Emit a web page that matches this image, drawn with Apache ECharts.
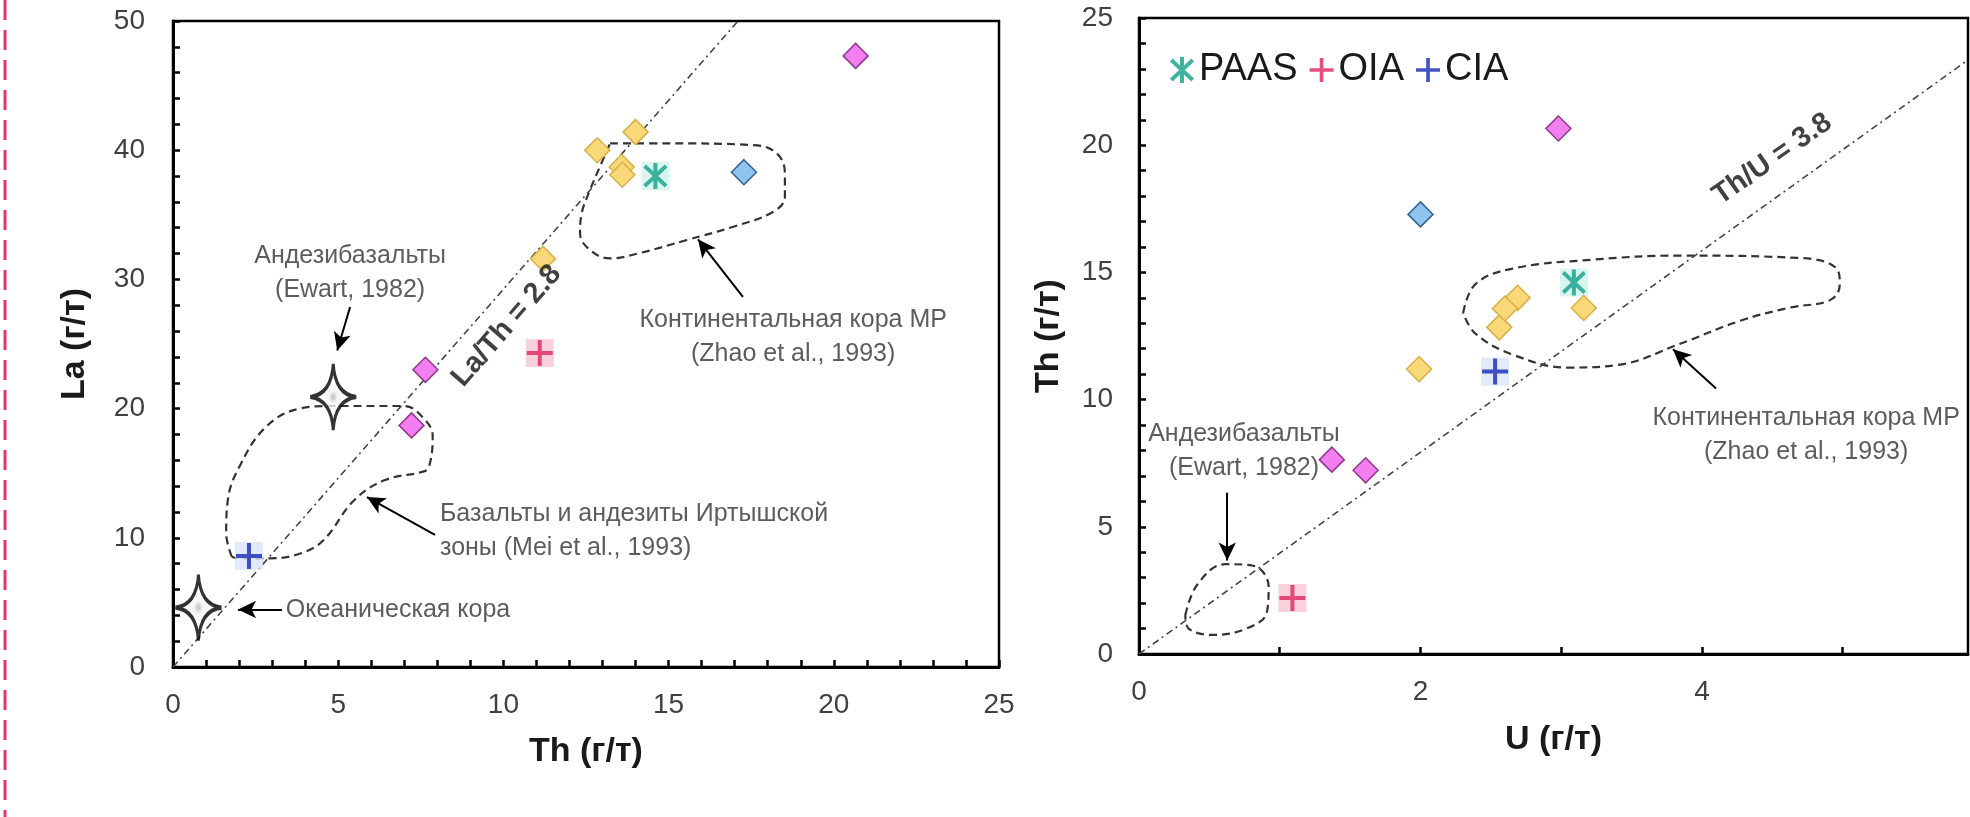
<!DOCTYPE html>
<html><head><meta charset="utf-8">
<script src="https://cdn.jsdelivr.net/npm/echarts@6/dist/echarts.min.js"></script>
<style>html,body{margin:0;padding:0;background:#fff;overflow:hidden}#c{width:1970px;height:817px}</style>
</head><body><div id="c"></div>
<script>
// ---------- data ----------
const pinkTh   = [20.66, 7.64, 7.22];
const pinkLa   = [47.3, 23.0, 18.7];
const pinkU    = [2.98, 1.37, 1.61];
const yellowTh = [12.84, 14.0, 13.58, 13.6, 11.2];
const yellowLa = [40.0, 41.4, 38.7, 38.1, 31.6];
const yellowU  = [2.56, 2.69, 2.60, 3.16, 1.99];
const blueTh   = [17.28];
const blueLa   = [38.3];
const blueU    = [2.0];
const paasLeft  = [[14.6, 38.0]];   // Th, La
const paasRight = [[3.09, 14.6]];   // U, Th
const redPlusLeft   = [[11.1, 24.3]];
const bluePlusLeft  = [[2.3, 8.6]];
const redPlusRight  = [[1.09, 2.2]];
const bluePlusRight = [[2.53, 11.1]];
const refStarsLeft  = [[4.85, 20.9], [0.77, 4.6]];
const ratioLineLaTh = [[0, 0], [17.1, 50]];
const ratioLineThU  = [[0, 0], [5.89, 23.35]];
const regionIrtysh = [[1.78,8.54],[1.61,10.35],[1.66,12.93],[2.01,15.5],[2.82,18.6],[3.87,20.02],[4.79,20.2],[6.99,20.2],[7.63,19.12],[7.86,17.83],[7.75,15.5],[7.57,15.12],[6.42,14.47],[5.49,12.93],[4.56,9.83],[3.87,8.8],[2.94,8.41],[2.01,8.41]];
const regionContLeft = [[13.23,40.53],[14.94,40.53],[17.56,40.4],[18.27,39.76],[18.52,38.21],[18.52,36.4],[18.17,35.24],[16.96,34.08],[15.55,33.05],[14.13,32.04],[13.23,31.63],[12.62,32.28],[12.32,33.57],[12.37,35.12],[12.62,36.92],[12.92,38.72]];
const regionEwartRight = [[0.329,1.525],[0.417,2.75],[0.614,3.53],[0.811,3.47],[0.921,2.65],[0.908,1.63],[0.768,1.01],[0.526,0.75],[0.351,1.01]];
const regionContRight = [[2.303,13.41],[2.391,14.54],[2.654,15.15],[3.224,15.5],[3.838,15.66],[4.716,15.56],[4.957,15.15],[4.979,14.54],[4.913,13.92],[4.628,13.62],[4.277,13.11],[3.838,12.18],[3.4,11.36],[3.049,11.26],[2.654,11.77],[2.391,12.59]];
const leftXLabels  = [0, 5, 10, 15, 20, 25];
const leftYLabels  = [0, 10, 20, 30, 40, 50];
const rightXLabels = [0, 2, 4];
const rightYLabels = [0, 5, 10, 15, 20, 25];
const legendNames  = ['PAAS', 'OIA', 'CIA'];
const annosLeft = [
  {text: 'Андезибазальты\n(Ewart, 1982)', at: [5.36, 30.45]},
  {text: 'Океаническая кора', at: [6.81, 4.4]},
  {text: 'Базальты и андезиты Иртышской\nзоны (Mei et al., 1993)', at: [8.08, 10.49], align: 'left'},
  {text: 'Континентальная кора МР\n(Zhao et al., 1993)', at: [18.77, 25.5]},
  {text: 'La/Th = 2.8', at: [10.1, 26.4], rotate: 49}
];
const annosRight = [
  {text: 'Андезибазальты\n(Ewart, 1982)', at: [0.746, 7.98]},
  {text: 'Континентальная кора МР\n(Zhao et al., 1993)', at: [4.74, 8.6]},
  {text: 'Th/U = 3.8', at: [4.5, 19.45], rotate: 35}
];
const arrowsLeft = [
  [[5.36, 27.86], [4.97, 24.5]],
  [[3.30, 4.45], [1.97, 4.45]],
  [[7.93, 10.22], [5.87, 13.15]],
  [[17.25, 28.64], [15.89, 33.1]]
];
const arrowsRight = [
  [[0.627, 6.34], [0.627, 3.68]],
  [[4.10, 10.44], [3.794, 11.98]]
];

// ---------- styling ----------
const F = 'Liberation Sans, Arial, sans-serif';
const zip = (a, b) => a.map((v, i) => [v, b[i]]);
const ASTER = 'path://M10,0 L14,0 L14,26 L10,26 Z M0,4.5 L2.6,1.5 L24,21.5 L21.4,24.5 Z M21.4,1.5 L24,4.5 L2.6,24.5 L0,21.5 Z';
const PLUS = 'path://M11,0 L15,0 L15,11 L26,11 L26,15 L15,15 L15,26 L11,26 L11,15 L0,15 L0,11 L11,11 Z';
const STAR = 'path://M50,0 Q54,46 100,50 Q54,54 50,100 Q46,54 0,50 Q46,46 50,0 Z';
const C = {pink:'#f27ef0', pinkB:'#8e3a8e', yellow:'#f8d878', yellowB:'#d8b048', blue:'#8ec4ef', blueB:'#35618f',
  teal:'#12a08a', tealBg:'#cff3ec', red:'#e0245e', redBg:'#f8c6d5', navy:'#1428b4', navyBg:'#dbe3f8'};

function axisCommon(min, max, interval, labels, name, nameGap, margin) {
  return {
    type: 'value', min, max, interval,
    axisLine: {show: true, onZero: false, lineStyle: {color: '#000', width: 3}},
    axisTick: {show: true, inside: true, length: 7, lineStyle: {color: '#000', width: 2.5}},
    axisLabel: {formatter: v => labels.includes(v) ? String(v) : '', margin, fontSize: 28, color: '#404040', fontFamily: F, showMaxLabel: labels.includes(max)},
    splitLine: {show: false},
    name, nameLocation: 'middle', nameGap,
    nameTextStyle: {fontSize: 34, fontWeight: 'bold', color: '#1a1a1a', fontFamily: F}
  };
}
function region(data, xi) {
  return {type: 'line', xAxisIndex: xi, yAxisIndex: xi, data: data.concat([data[0]]), smooth: 0.4, symbol: 'none',
    lineStyle: {color: '#333', width: 2.2, type: [8, 5]}, silent: true, z: 2};
}
function ratio(data, xi) {
  return {type: 'line', xAxisIndex: xi, yAxisIndex: xi, data, symbol: 'none',
    lineStyle: {color: '#444', width: 1.6, type: [7, 4, 2, 4]}, silent: true, z: 2};
}
function diamonds(data, xi, fill, border) {
  return {type: 'scatter', xAxisIndex: xi, yAxisIndex: xi, data, symbol: 'diamond', symbolSize: 25,
    itemStyle: {color: fill, borderColor: border, borderWidth: 1.5, opacity: 1}, silent: true, z: 5};
}
function bgSquare(data, xi, color) {
  return {type: 'scatter', xAxisIndex: xi, yAxisIndex: xi, data, symbol: 'rect', symbolSize: 28,
    itemStyle: {color}, silent: true, z: 4};
}
function mark(name, data, xi, symbol, color, size) {
  return {type: 'scatter', name, xAxisIndex: xi, yAxisIndex: xi, data, symbol, symbolSize: size,
    itemStyle: {color}, silent: true, z: 6};
}
function annos(list, arrows, xi) {
  return {
    type: 'scatter', xAxisIndex: xi, yAxisIndex: xi, symbolSize: 1, itemStyle: {color: 'rgba(0,0,0,0)'}, silent: true, z: 7,
    data: list.map(a => ({
      value: a.at, name: a.text,
      label: a.rotate ? {rotate: a.rotate, fontWeight: 'bold', fontSize: 29, color: '#111'} : {align: a.align || 'center'}
    })),
    label: {show: true, position: 'inside', formatter: p => p.name, fontSize: 25, color: '#333', lineHeight: 34, fontFamily: F},
    markLine: {
      silent: true, animation: false, symbol: ['none', 'arrow'], symbolSize: [13, 18],
      lineStyle: {color: '#000', width: 2, type: 'solid'}, label: {show: false},
      emphasis: {disabled: true},
      data: arrows.map(a => [{coord: a[0]}, {coord: a[1]}])
    }
  };
}

const chart = echarts.init(document.getElementById('c'));
chart.setOption({
  animation: false,
  backgroundColor: '#fff',
  textStyle: {fontFamily: F},
  grid: [
    {left: 173, top: 21, width: 826, height: 646, show: true, borderColor: '#000', borderWidth: 2.5, backgroundColor: 'transparent'},
    {left: 1139, top: 18, width: 829, height: 636, show: true, borderColor: '#000', borderWidth: 2.5, backgroundColor: 'transparent'}
  ],
  xAxis: [
    Object.assign(axisCommon(0, 25, 1, leftXLabels, 'Th (г/т)', 68, 24), {gridIndex: 0}),
    Object.assign(axisCommon(0, 5.89, 1, rightXLabels, 'U (г/т)', 69, 24), {gridIndex: 1})
  ],
  yAxis: [
    Object.assign(axisCommon(0, 50, 2, leftYLabels, 'La (г/т)', 81, 28), {gridIndex: 0}),
    Object.assign(axisCommon(0, 25, 1, rightYLabels, 'Th (г/т)', 73, 26), {gridIndex: 1})
  ],
  legend: {
    left: 1170, top: 51, padding: 0, itemGap: 12, itemWidth: 24, itemHeight: 26, selectedMode: false,
    textStyle: {fontSize: 38, color: '#1a1a1a', fontFamily: F},
    data: [{name: legendNames[0], icon: ASTER}, {name: legendNames[1], icon: PLUS}, {name: legendNames[2], icon: PLUS}]
  },
  graphic: [{type: 'line', shape: {x1: 5, y1: 0, x2: 5, y2: 817}, style: {stroke: '#e8336f', lineWidth: 3, lineDash: [20, 10]}}],
  series: [
    // left panel
    region(regionIrtysh, 0),
    region(regionContLeft, 0),
    ratio(ratioLineLaTh, 0),
    {type: 'scatter', xAxisIndex: 0, yAxisIndex: 0, data: refStarsLeft, symbol: STAR, symbolSize: [46, 66], silent: true, z: 5,
      itemStyle: {borderColor: '#000', borderWidth: 3.5,
        color: {type: 'radial', x: 0.5, y: 0.5, r: 0.5, colorStops: [{offset: 0, color: '#b0b0b0'}, {offset: 0.18, color: '#f4f4f4'}, {offset: 1, color: '#ffffff'}]}}},
    diamonds(zip(yellowTh, yellowLa), 0, C.yellow, C.yellowB),
    diamonds(zip(pinkTh, pinkLa), 0, C.pink, C.pinkB),
    diamonds(zip(blueTh, blueLa), 0, C.blue, C.blueB),
    bgSquare(paasLeft, 0, C.tealBg),
    bgSquare(redPlusLeft, 0, C.redBg),
    bgSquare(bluePlusLeft, 0, C.navyBg),
    mark('PAAS', paasLeft, 0, ASTER, C.teal, [24, 26]),
    mark('OIA', redPlusLeft, 0, PLUS, C.red, 26),
    mark('CIA', bluePlusLeft, 0, PLUS, C.navy, 26),
    annos(annosLeft, arrowsLeft, 0),
    // right panel
    region(regionEwartRight, 1),
    region(regionContRight, 1),
    ratio(ratioLineThU, 1),
    diamonds(zip(yellowU, yellowTh), 1, C.yellow, C.yellowB),
    diamonds(zip(pinkU, pinkTh), 1, C.pink, C.pinkB),
    diamonds(zip(blueU, blueTh), 1, C.blue, C.blueB),
    bgSquare(paasRight, 1, C.tealBg),
    bgSquare(redPlusRight, 1, C.redBg),
    bgSquare(bluePlusRight, 1, C.navyBg),
    mark('PAAS', paasRight, 1, ASTER, C.teal, [24, 26]),
    mark('OIA', redPlusRight, 1, PLUS, C.red, 26),
    mark('CIA', bluePlusRight, 1, PLUS, C.navy, 26),
    annos(annosRight, arrowsRight, 1)
  ]
});
</script></body></html>
